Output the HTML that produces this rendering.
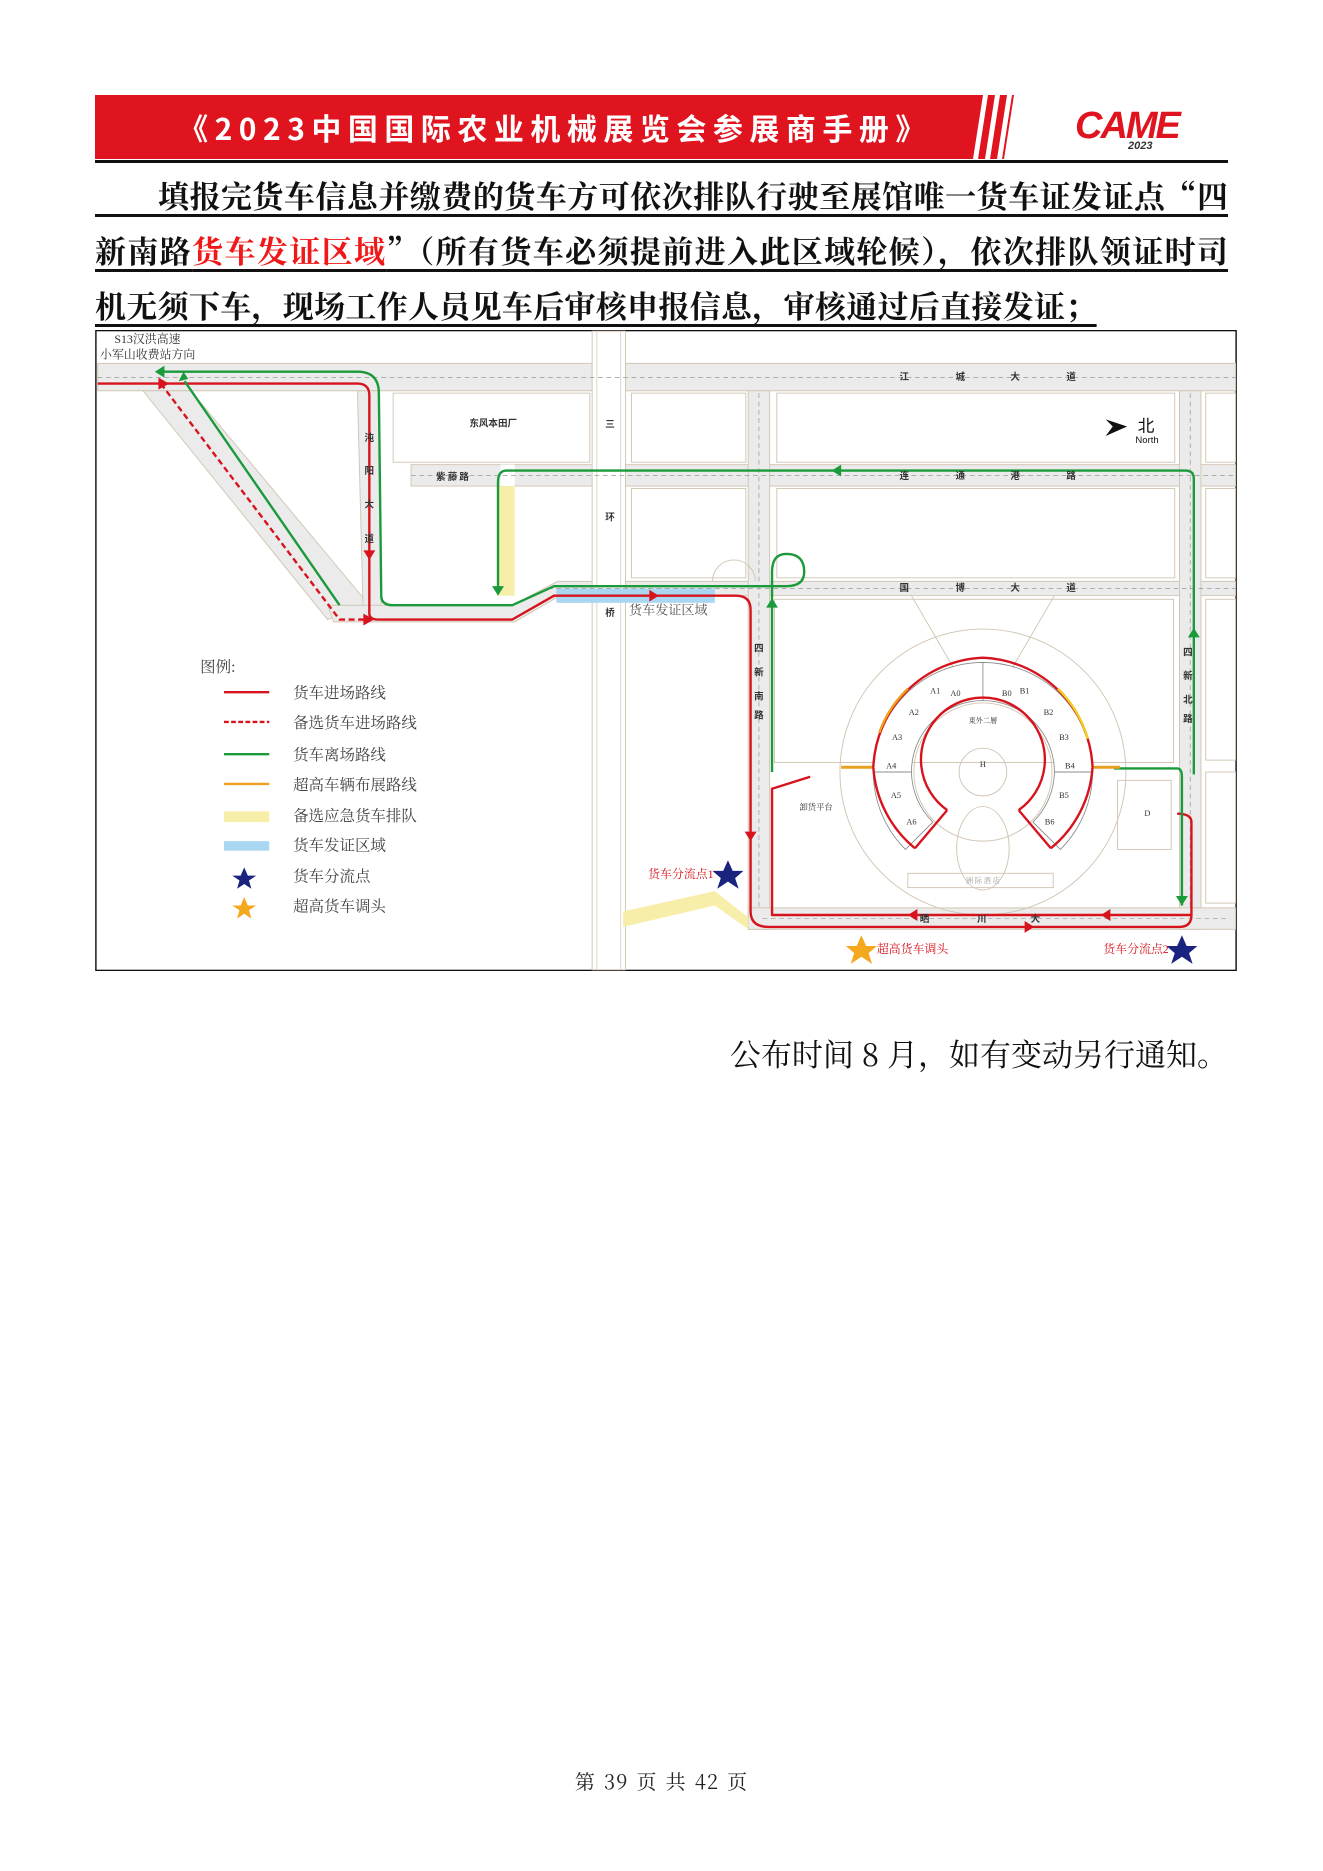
<!DOCTYPE html>
<html><head><meta charset="utf-8"><style>
body{margin:0;background:#fff;}
#pg{position:relative;width:1323px;height:1871px;overflow:hidden;background:#fff;font-family:"Liberation Serif","Noto Serif CJK SC",serif;}
.bar{position:absolute;left:95px;top:95px;width:926px;height:64px;background:#e0141e;}
.title{position:absolute;left:115px;top:95px;width:880px;height:64px;line-height:64px;text-align:center;color:#fff;font-family:"Noto Sans CJK SC",sans-serif;font-weight:bold;font-size:30px;letter-spacing:6.5px;}
.hl{position:absolute;left:95px;top:160px;width:1133px;height:3px;background:#111;}
.p{position:absolute;left:95px;font-size:31px;font-weight:bold;font-family:"Noto Serif CJK SC",serif;color:#111;white-space:nowrap;text-decoration:underline;text-underline-offset:6px;}
.j{width:1133px;text-align:justify;text-align-last:justify;white-space:normal;}
.note{position:absolute;right:95px;top:1030px;font-size:31px;font-family:"Noto Serif CJK SC",serif;color:#111;}
.foot{position:absolute;left:0;width:1323px;top:1766px;text-align:center;font-size:20px;letter-spacing:1px;word-spacing:2px;font-family:"Noto Serif CJK SC",serif;color:#222;}
</style></head><body><div id="pg">
<div class="bar"></div>
<svg style="position:absolute;left:965px;top:95px" width="70" height="64"><g fill="#fff"><polygon points="8,64 18,0 23,0 13,64"/><polygon points="20,64 30,0 35,0 25,64"/><polygon points="32,64 42,0 47,0 37,64"/></g><polygon points="49,0 70,0 70,64 39,64" fill="#fff"/></svg>
<div class="title">《2023中国国际农业机械展览会参展商手册》</div>
<div style="position:absolute;left:1075px;top:105px;font-family:'Liberation Sans',sans-serif;font-weight:bold;font-style:italic;font-size:38px;color:#e0141e;letter-spacing:-2px">CAME</div>
<div style="position:absolute;left:1128px;top:140px;font-family:'Liberation Sans',sans-serif;font-style:italic;font-weight:bold;font-size:11px;color:#333">2023</div>
<div class="hl"></div>
<div class="p j" style="top:172px;">　　填报完货车信息并缴费的货车方可依次排队行驶至展馆唯一货车证发证点“四</div>
<div class="p j" style="top:227px;">新南路<span style="color:#f01818">货车发证区域</span>”（所有货车必须提前进入此区域轮候），依次排队领证时司</div>
<div class="p" style="top:282px;letter-spacing:0.3px">机无须下车，现场工作人员见车后审核申报信息，审核通过后直接发证；</div>

<svg style="position:absolute;left:95px;top:330px" width="1142" height="641" viewBox="80 277 958 538" font-family="Liberation Serif,Noto Serif CJK SC,serif">
<rect x="80.5" y="277.5" width="957" height="537" fill="#fff" stroke="#111" stroke-width="1.2"/>
<g fill="#ebebeb" stroke="#d2c6b4" stroke-width="0.8">
<rect x="82" y="305" width="955" height="23"/>
<polygon points="120,328 160,328 310,508 275,520"/>
<polygon points="300,328 318,328 320,508 305,520"/>
<polygon points="275,508 430,508 468,488 1037,488 1037,500 470,500 432,522 280,522"/>
<rect x="345" y="390" width="692" height="18"/>
<rect x="628" y="328" width="18" height="452"/>
<rect x="990" y="328" width="18" height="452"/>
<rect x="628" y="762" width="409" height="18"/>
</g>
<rect x="418" y="408" width="14" height="92" fill="#f7eeaa"/>
<rect x="420" y="390" width="12" height="18" fill="#fff"/>
<rect x="497" y="278" width="28" height="536" fill="#fff" stroke="#d2c6b4" stroke-width="0.8"/>
<line x1="501" y1="278" x2="501" y2="814" stroke="#d2c6b4" stroke-width="0.6"/>
<line x1="521" y1="278" x2="521" y2="814" stroke="#d2c6b4" stroke-width="0.6"/>
<polygon points="523,765 600,748 628,770 628,780 600,760 523,778" fill="#f7eeaa"/>
<g fill="none" stroke="#d2c6b4" stroke-width="0.8">
<rect x="330" y="330" width="165" height="58"/><rect x="530" y="330" width="96" height="58"/><rect x="652" y="330" width="334" height="58"/>
<rect x="652" y="410" width="334" height="75"/><rect x="530" y="410" width="96" height="75"/><rect x="1012" y="330" width="25" height="58"/><rect x="1012" y="410" width="25" height="75"/>
<rect x="1012" y="503" width="25" height="135"/><rect x="1012" y="648" width="25" height="110"/>
<rect x="938" y="655" width="45" height="58" fill="#fff"/>
<path d="M650,503 L985,503 L985,640 L650,640 Z"/>
<path d="M598,488 a18,18 0 0 1 36,0"/>
<circle cx="825" cy="648" r="120"/><circle cx="825" cy="648" r="58"/><circle cx="825" cy="648" r="20"/>
<path d="M765,500 L800,560 M885,500 L850,560"/>
<rect x="762" y="733" width="122" height="12"/>
<ellipse cx="825" cy="712" rx="22" ry="35"/>
</g>
<rect x="467" y="494" width="133" height="12" fill="#a9d7f2"/>
<g stroke="#999" stroke-width="0.6" stroke-dasharray="4,3" fill="none">
<line x1="82" y1="317" x2="1037" y2="317"/><line x1="345" y1="399" x2="1037" y2="399"/><line x1="460" y1="494" x2="1037" y2="494"/><line x1="637" y1="330" x2="637" y2="762"/><line x1="999" y1="330" x2="999" y2="762"/><line x1="640" y1="771" x2="1030" y2="771"/>
</g>
<g fill="#fff" stroke="#888" stroke-width="0.7">
<path d="M733,648 A92,92 0 0 1 825,556 L825,588 A60,60 0 0 0 765,648 Z"/>
<path d="M917,648 A92,92 0 0 0 825,556 L825,588 A60,60 0 0 1 885,648 Z"/>
<path d="M733,648 A92,92 0 0 0 760,713 L783,690 A60,60 0 0 1 765,648 Z"/>
<path d="M917,648 A92,92 0 0 1 890,713 L867,690 A60,60 0 0 0 885,648 Z"/>
</g>
<g font-size="7" fill="#333" text-anchor="middle">
<text x="785" y="582">A1</text><text x="802" y="584">A0</text><text x="845" y="584">B0</text><text x="860" y="582">B1</text><text x="767" y="600">A2</text><text x="880" y="600">B2</text><text x="753" y="621">A3</text><text x="893" y="621">B3</text><text x="748" y="645">A4</text><text x="898" y="645">B4</text><text x="752" y="670">A5</text><text x="893" y="670">B5</text><text x="765" y="692">A6</text><text x="881" y="692">B6</text><text x="825" y="644">H</text><text x="963" y="685">D</text><text x="825" y="607" font-size="6">東外二層</text><text x="685" y="680">卸货平台</text><text x="825" y="741" font-size="6" fill="#999">洲 际 酒 店</text>
</g>
<g fill="none" stroke-width="2" stroke-linejoin="round">
<path d="M82,322 L140,322" stroke="#d7141d"/>
<path d="M138,322 L300,322 Q310,322 310,332 L310,515 Q310,520 318,520 L430,520 L465,500 L618,500 Q630,500 630,512 L630,765 Q630,778 645,778 L990,778 Q1000,778 1000,768 L1000,690 Q1000,683 988,683" stroke="#d7141d"/>
<path d="M135,322 L285,520 L310,520" stroke="#d7141d" stroke-dasharray="5,3"/>
<path d="M1000,768 L648,768 L648,662 L680,652" stroke="#d7141d"/>
<path d="M135,312 L300,312 Q318,312 318,330 L320,500 Q320,508 330,508 L430,508 L465,492 L660,492 Q675,492 675,480 Q675,465 660,465 Q648,465 648,480 L648,648" stroke="#1a9a3a"/>
<path d="M155,320 L285,508" stroke="#1a9a3a"/>
<path d="M1002,650 L1002,402 Q1002,395 995,395 L425,395 Q418,395 418,405 L418,498" stroke="#1a9a3a"/>
<path d="M935,645 L988,645 Q992,645 992,652 L992,760" stroke="#1a9a3a"/>
<path d="M706,644 L733,644" stroke="#e8a020" stroke-width="2.5"/>
<path d="M917,644 L940,644" stroke="#e8a020" stroke-width="2.5"/>
<path d="M733,644 A96,96 0 0 1 825,552 A96,96 0 0 1 917,644" stroke="#d7141d"/>
<path d="M738,615 A96,96 0 0 1 762,578" stroke="#f0a020"/><path d="M888,578 A96,96 0 0 1 913,620" stroke="#f0d020"/>
<path d="M733,644 A96,96 0 0 0 768,712" stroke="#d7141d"/><path d="M917,644 A96,96 0 0 1 882,712" stroke="#d7141d"/>
<path d="M768,712 L795,680 M882,712 L855,680" stroke="#d7141d"/>
<path d="M795,680 A52,52 0 1 1 855,680" stroke="#d7141d"/>
</g>
<g fill="#d7141d"><polygon points="133,317 142,322 133,327"/><polygon points="305,462 310,470 315,462"/><polygon points="545,495 553,500 545,505"/><polygon points="625,698 630,706 635,698"/><polygon points="305,515 314,520 305,525"/><polygon points="860,773 868,778 860,783"/><polygon points="932,763 924,768 932,773"/><polygon points="770,763 762,768 770,773"/></g>
<g fill="#1a9a3a"><polygon points="130,312 138,307 138,317"/><polygon points="150,320 158,318 154,312"/><polygon points="413,492 418,500 423,492"/><polygon points="643,510 648,502 653,510"/><polygon points="997,535 1002,527 1007,535"/><polygon points="706,390 698,395 706,400"/><polygon points="987,752 992,760 997,752"/></g>
<g font-size="8" fill="#333" font-weight="bold" font-family="Noto Sans CJK SC,sans-serif">
<text x="755" y="319">江</text><text x="802" y="319">城</text><text x="848" y="319">大</text><text x="895" y="319">道</text>
<text x="755" y="402">连</text><text x="802" y="402">通</text><text x="848" y="402">港</text><text x="895" y="402">路</text>
<text x="755" y="496">国</text><text x="802" y="496">博</text><text x="848" y="496">大</text><text x="895" y="496">道</text>
<text x="772" y="774">晒</text><text x="820" y="774">川</text><text x="865" y="774">大</text>
<text x="394" y="358">东风本田厂</text><text x="366" y="403">紫 藤 路</text>
<text x="508" y="359">三</text><text x="508" y="437">环</text><text x="508" y="517">桥</text>
<text x="306" y="370">沌</text><text x="306" y="398">阳</text><text x="306" y="426">大</text><text x="306" y="455">道</text>
<text x="633" y="547">四</text><text x="633" y="567">新</text><text x="633" y="587">南</text><text x="633" y="603">路</text>
<text x="993" y="550">四</text><text x="993" y="570">新</text><text x="993" y="590">北</text><text x="993" y="606">路</text>
</g>
<text x="96" y="288" font-size="10" fill="#333">S13汉洪高速</text><text x="84" y="301" font-size="10" fill="#333">小军山收费站方向</text>
<text x="528" y="516" font-size="11" fill="#555">货车发证区域</text>
<polygon points="928,352 946,358 928,366 934,358" fill="#111"/><text x="955" y="362" font-size="14" fill="#111" font-family="Noto Sans CJK SC,sans-serif">北</text><text x="953" y="372" font-size="8" fill="#111" font-family="Liberation Sans,sans-serif">North</text>
<g font-size="13" fill="#444"><text x="168" y="564">图例:</text>
<text x="246" y="586">货车进场路线</text><text x="246" y="611">备选货车进场路线</text><text x="246" y="638">货车离场路线</text><text x="246" y="663">超高车辆布展路线</text><text x="246" y="689">备选应急货车排队</text><text x="246" y="714">货车发证区域</text><text x="246" y="740">货车分流点</text><text x="246" y="765">超高货车调头</text></g>
<line x1="188" y1="581" x2="226" y2="581" stroke="#d7141d" stroke-width="2"/>
<line x1="188" y1="606" x2="226" y2="606" stroke="#d7141d" stroke-width="2" stroke-dasharray="4,2"/>
<line x1="188" y1="633" x2="226" y2="633" stroke="#1a9a3a" stroke-width="2"/>
<line x1="188" y1="658" x2="226" y2="658" stroke="#f0a020" stroke-width="2"/>
<rect x="188" y="681" width="38" height="9" fill="#f7eeaa"/><rect x="188" y="706" width="38" height="8" fill="#a9d7f2"/>
<g fill="#1a237e"><polygon points="205,728 208,735 215,735 209,739 211,746 205,742 199,746 201,739 195,735 202,735"/>
<polygon points="611,722 615,731 624,731 617,737 620,746 611,740 602,746 605,737 598,731 607,731"/>
<polygon points="992,785 996,794 1005,794 998,800 1001,809 992,803 983,809 986,800 979,794 988,794"/></g>
<g fill="#f3a81e"><polygon points="205,753 208,760 215,760 209,764 211,771 205,767 199,771 201,764 195,760 202,760"/>
<polygon points="723,785 727,794 736,794 729,800 732,809 723,803 714,809 717,800 710,794 719,794"/></g>
<g font-size="10" fill="#d7141d"><text x="544" y="737">货车分流点1</text><text x="736" y="800">超高货车调头</text><text x="926" y="800">货车分流点2</text></g>
</svg>

<div class="note">公布时间 8 月，如有变动另行通知。</div>
<div class="foot">第 39 页 共 42 页</div>
</div></body></html>
